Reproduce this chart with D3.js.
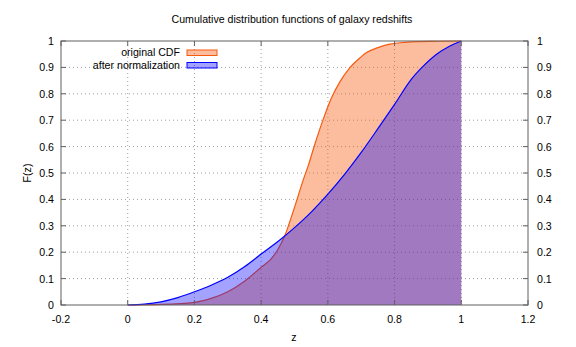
<!DOCTYPE html>
<html>
<head>
<meta charset="utf-8">
<title>Cumulative distribution functions of galaxy redshifts</title>
<script src="https://cdn.jsdelivr.net/npm/d3@7"></script>
<style>
    body { margin: 0; background: #fff; }
    text { font-family: "Liberation Sans", Arial, sans-serif; font-size: 10.6px; fill: #000; }
    .grid line { stroke: #a0a0a0; stroke-dasharray: 1 3; stroke-width: 1; }
</style>
</head>
<body>
<script>
// values
const origZ = [0, 0.1, 0.2, 0.25, 0.3, 0.35, 0.4, 0.43, 0.45, 0.47, 0.5, 0.526, 0.541, 0.56, 0.586, 0.61, 0.636, 0.666, 0.7, 0.716, 0.75, 0.786, 0.83, 0.866, 0.93, 1];
const origF = [0, 0.002, 0.01, 0.025, 0.05, 0.09, 0.143, 0.175, 0.21, 0.26, 0.37, 0.473, 0.527, 0.605, 0.703, 0.782, 0.845, 0.899, 0.94, 0.956, 0.975, 0.988, 0.995, 0.998, 0.999, 1];
const normZ = [0, 0.05, 0.1, 0.15, 0.2, 0.25, 0.3, 0.35, 0.4, 0.456, 0.5, 0.55, 0.6, 0.65, 0.7, 0.75, 0.8, 0.85, 0.886, 0.926, 0.966, 1];
const normF = [0, 0.003, 0.012, 0.028, 0.05, 0.075, 0.105, 0.145, 0.193, 0.246, 0.293, 0.352, 0.42, 0.495, 0.578, 0.668, 0.76, 0.855, 0.905, 0.95, 0.981, 1];
const xTicks = [-0.2, 0, 0.2, 0.4, 0.6, 0.8, 1, 1.2];
const yTicks = [0, 0.1, 0.2, 0.3, 0.4, 0.5, 0.6, 0.7, 0.8, 0.9, 1];
const seriesNames = ["original CDF", "after normalization"];

const width = 576, height = 347;
const mLeft = 61, mRight = 528, mTop = 41, mBottom = 305;

const svg = d3.select("body").append("svg")
    .attr("width", width)
    .attr("height", height);

const x = d3.scaleLinear().domain([-0.2, 1.2]).range([mLeft, mRight]);
const y = d3.scaleLinear().domain([0, 1]).range([mBottom, mTop]);

const orig = origZ.map((z, i) => [z, origF[i]]);
const norm = normZ.map((z, i) => [z, normF[i]]);

const area = d3.area().x(d => x(d[0])).y0(y(0)).y1(d => y(d[1])).curve(d3.curveMonotoneX);
const line = d3.line().x(d => x(d[0])).y(d => y(d[1])).curve(d3.curveMonotoneX);

const orangeFill = "rgba(247,90,15,0.4)";
const blueFill = "rgba(0,0,255,0.36)";

// grid
const grid = svg.append("g").attr("class", "grid");
grid.selectAll(".gx").data(xTicks.slice(1, -1)).enter().append("line")
    .attr("x1", d => x(d)).attr("x2", d => x(d)).attr("y1", mTop).attr("y2", mBottom);
grid.selectAll(".gy").data(yTicks.slice(1, -1)).enter().append("line")
    .attr("x1", mLeft).attr("x2", mRight).attr("y1", d => y(d)).attr("y2", d => y(d));

// original CDF
svg.append("path").datum(orig).attr("d", area).attr("fill", orangeFill);
svg.append("path").datum(orig).attr("d", line).attr("fill", "none").attr("stroke", "#f75a0f").attr("stroke-width", 1.2);

// after normalization
svg.append("path").datum(norm).attr("d", area).attr("fill", blueFill);
svg.append("path").datum(norm).attr("d", line).attr("fill", "none").attr("stroke", "#0000ff").attr("stroke-width", 1.2);

// border
svg.append("rect").attr("x", mLeft).attr("y", mTop).attr("width", mRight - mLeft).attr("height", mBottom - mTop)
    .attr("fill", "none").attr("stroke", "#606060").attr("stroke-width", 1);

// ticks (inside, mirrored)
const tk = 5;
const ticks = svg.append("g").attr("stroke", "#606060");
xTicks.forEach(t => {
    ticks.append("line").attr("x1", x(t)).attr("x2", x(t)).attr("y1", mBottom).attr("y2", mBottom - tk);
    ticks.append("line").attr("x1", x(t)).attr("x2", x(t)).attr("y1", mTop).attr("y2", mTop + tk);
});
yTicks.forEach(t => {
    ticks.append("line").attr("x1", mLeft).attr("x2", mLeft + tk).attr("y1", y(t)).attr("y2", y(t));
    ticks.append("line").attr("x1", mRight).attr("x2", mRight - tk).attr("y1", y(t)).attr("y2", y(t));
});

// tick labels
svg.selectAll(".xl").data(xTicks).enter().append("text")
    .attr("x", d => x(d)).attr("y", 323).attr("text-anchor", "middle").text(d => d);
svg.selectAll(".yl").data(yTicks).enter().append("text")
    .attr("x", 54).attr("y", d => y(d) + 4).attr("text-anchor", "end").text(d => d);
svg.selectAll(".yr").data(yTicks).enter().append("text")
    .attr("x", 537).attr("y", d => y(d) + 4).attr("text-anchor", "start").text(d => d);

// titles
svg.append("text").attr("x", 292).attr("y", 23).attr("text-anchor", "middle")
    .text("Cumulative distribution functions of galaxy redshifts");
svg.append("text").attr("x", 294).attr("y", 341).attr("text-anchor", "middle").text("z");
svg.append("text").attr("transform", "translate(31,173) rotate(-90)").attr("text-anchor", "middle").text("F(z)");

// legend
const legend = svg.append("g");
const fills = [orangeFill, blueFill], strokes = ["#f75a0f", "#0000ff"];
seriesNames.forEach((name, i) => {
    const cy = 52.5 + i * 12.5;
    legend.append("text").attr("x", 180).attr("y", cy + 3.5).attr("text-anchor", "end").text(name);
    legend.append("rect").attr("x", 187).attr("y", cy - 2.5).attr("width", 30).attr("height", 5.5)
        .attr("fill", fills[i]).attr("stroke", strokes[i]).attr("stroke-width", 1);
});
</script>
</body>
</html>
